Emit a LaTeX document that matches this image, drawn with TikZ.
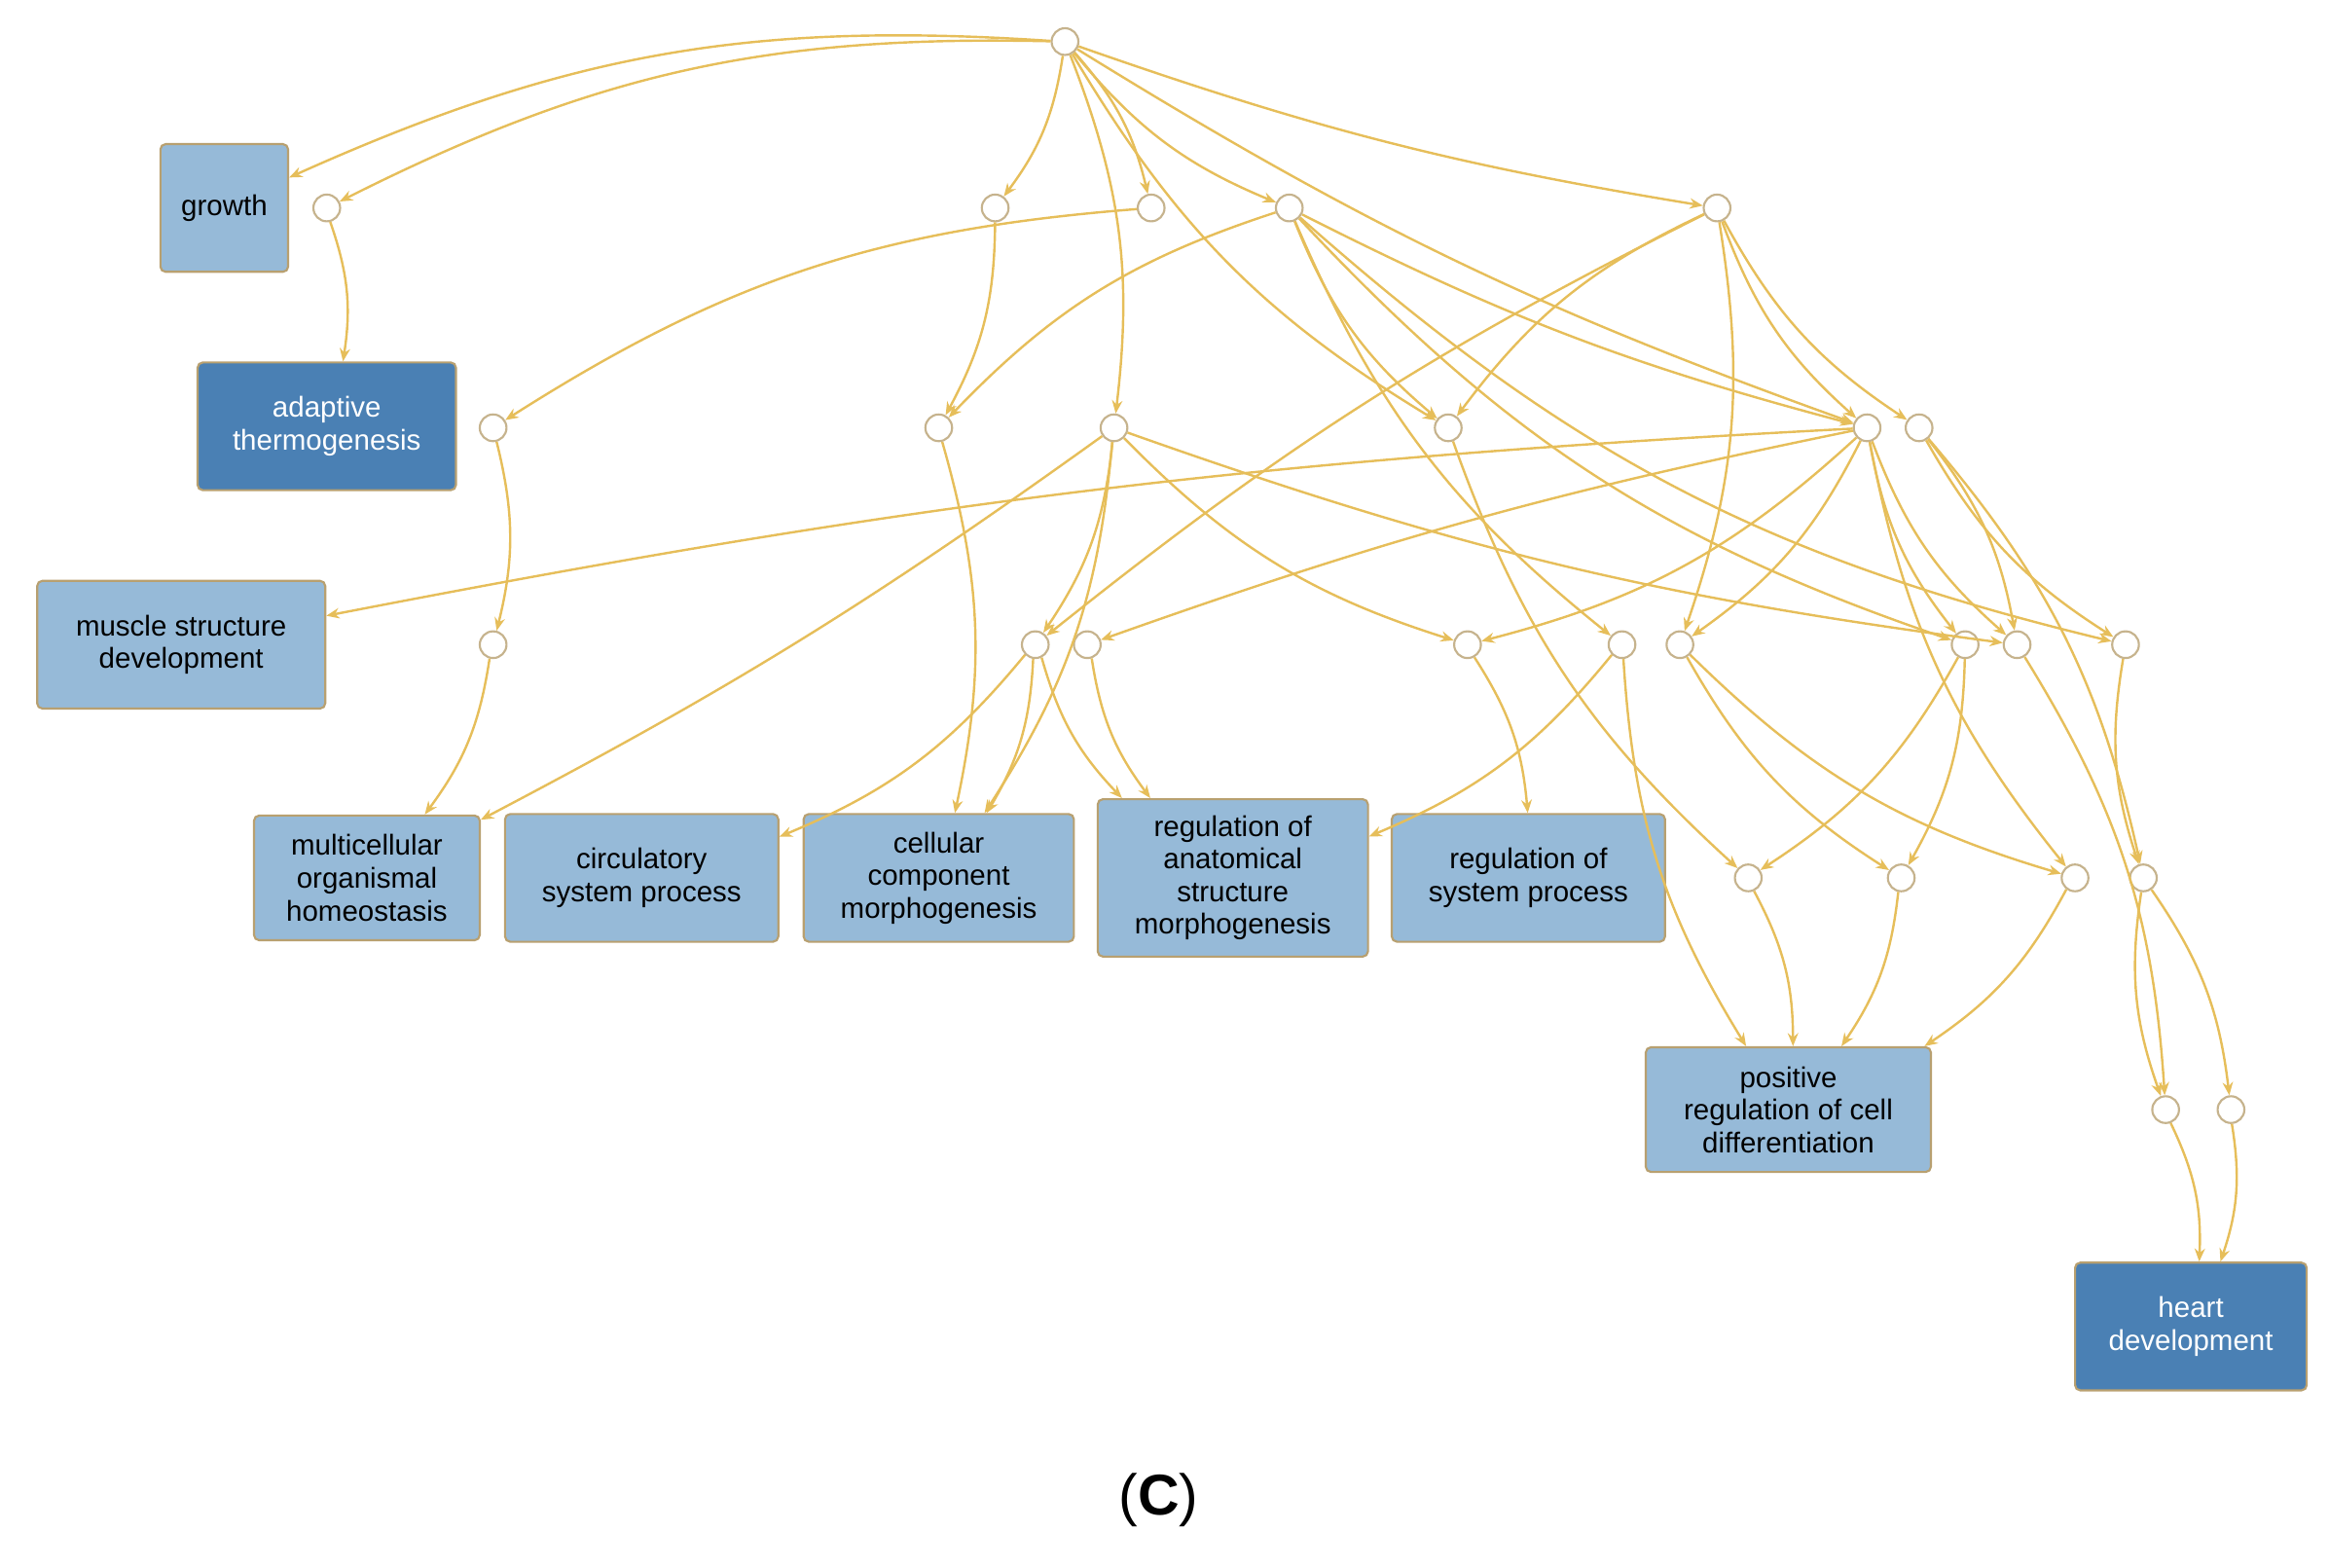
\documentclass[tikz,border=0pt]{standalone}
\usepackage{fontspec}
\setmainfont{Liberation Sans}
\usetikzlibrary{arrows.meta}
\definecolor{edgegold}{RGB}{230,190,90}
\definecolor{boxlight}{RGB}{150,186,216}
\definecolor{boxdark}{RGB}{74,128,180}
\definecolor{boxedge}{RGB}{184,160,112}
\begin{document}
\begin{tikzpicture}[x=0.02cm,y=-0.02cm,
  dot/.style={circle,draw=boxedge!80,fill=white,line width=0.8pt,minimum size=0.36cm,inner sep=0pt},
  term/.style={draw=boxedge,line width=0.8pt,fill=boxlight,rounded corners=2pt,align=center,
    font=\fontsize{11}{12.5}\selectfont,inner sep=2pt},
  dterm/.style={term,fill=boxdark,text=white},
  e/.style={draw=edgegold,line width=0.9pt,-{Stealth[length=5pt,width=4pt]}},
  el/.style={e,bend left=14},
  er/.style={e,bend right=14}]
\useasboundingbox (0,0) rectangle (1568,1055);
% terms
\node[term,minimum width=1.72cm,minimum height=1.72cm] (growth) at (151,140) {growth};
\node[dterm,minimum width=3.48cm,minimum height=1.72cm] (adapt) at (220,287) {adaptive\\thermogenesis};
\node[term,minimum width=3.88cm,minimum height=1.72cm] (muscle) at (122,434) {muscle structure\\development};
\node[term,minimum width=3.04cm,minimum height=1.68cm] (multi) at (247,591) {multicellular\\organismal\\homeostasis};
\node[term,minimum width=3.68cm,minimum height=1.72cm] (circ) at (432,591) {circulatory\\system process};
\node[term,minimum width=3.64cm,minimum height=1.72cm] (cell) at (632,591) {cellular\\component\\morphogenesis};
\node[term,minimum width=3.64cm,minimum height=2.12cm] (anat) at (830,591) {regulation of\\anatomical\\structure\\morphogenesis};
\node[term,minimum width=3.68cm,minimum height=1.72cm] (sys) at (1029,591) {regulation of\\system process};
\node[term,minimum width=3.84cm,minimum height=1.68cm] (pos) at (1204,747) {positive\\regulation of cell\\differentiation};
\node[dterm,minimum width=3.12cm,minimum height=1.72cm] (heart) at (1475,893) {heart\\development};
\node[font=\fontsize{22}{24}\selectfont\rmfamily] (lab) at (780,1010) {(\textbf{C})};
% intermediate nodes
\node[dot] (t) at (717,28) {};
\node[dot] (a1) at (220,140) {}; \node[dot] (a2) at (670,140) {}; \node[dot] (a3) at (775,140) {};
\node[dot] (a4) at (868,140) {}; \node[dot] (a5) at (1156,140) {};
\node[dot] (b1) at (332,288) {}; \node[dot] (b2) at (632,288) {}; \node[dot] (b3) at (750,288) {};
\node[dot] (b4) at (975,288) {}; \node[dot] (b5) at (1257,288) {}; \node[dot] (b6) at (1292,288) {};
\node[dot] (c1) at (332,434) {}; \node[dot] (c2) at (697,434) {}; \node[dot] (c3) at (732,434) {};
\node[dot] (c4) at (988,434) {}; \node[dot] (c5) at (1092,434) {}; \node[dot] (c6) at (1131,434) {};
\node[dot] (c7) at (1323,434) {}; \node[dot] (c8) at (1358,434) {}; \node[dot] (c9) at (1431,434) {};
\node[dot] (d1) at (1177,591) {}; \node[dot] (d2) at (1280,591) {}; \node[dot] (d3) at (1397,591) {};
\node[dot] (d4) at (1443,591) {};
\node[dot] (e1) at (1458,747) {}; \node[dot] (e2) at (1502,747) {};
% connectors
\begin{scope}[on background layer/.style={}]
\draw[er] (t) to (growth);
\draw[er] (t) to (a1);
\draw[el] (t) to (a2);
\draw[el] (t) to (a3);
\draw[er] (t) to (a4);
\draw[er,bend right=5] (t) to (a5);
\draw[el] (t) to (b3);
\draw[er] (t) to (b4);
\draw[er,bend right=6] (t) to (b5);
\draw[el] (a1) to (adapt);
\draw[er] (a3) to (b1);
\draw[el] (b1) to (c1);
\draw[el] (c1) to (multi);
\draw[el] (a2) to (b2);
\draw[el] (b2) to (cell);
\draw[er] (a4) to (b2);
\draw[el] (b3) to (c2);
\draw[el] (b3) to (cell);
\draw[e,bend left=4] (b3) to (multi);
\draw[er] (b3) to (c4);
\draw[er,bend right=6] (b3) to (c8);
\draw[er] (a4) to (b4);
\draw[er,bend right=6] (a4) to (b5);
\draw[er] (a4) to (c7);
\draw[er] (a4) to (c5);
\draw[er] (a4) to (c9);
\draw[er] (a5) to (b5);
\draw[er] (a5) to (b6);
\draw[el] (a5) to (c6);
\draw[e,bend right=6] (a5) to (c2);
\draw[er] (a5) to (b4);
\draw[e,bend right=4] (b5) to (muscle);
\draw[e,bend right=4] (b5) to (c3);
\draw[el] (b5) to (c4);
\draw[el] (b5) to (c6);
\draw[er] (b5) to (c7);
\draw[er] (b5) to (c8);
\draw[er] (b5) to (d3);
\draw[er] (b6) to (c9);
\draw[el] (b6) to (c8);
\draw[el] (b6) to (d4);
\draw[er] (b4) to (d1);
\draw[el] (c2) to (circ);
\draw[el] (c2) to (cell);
\draw[er] (c2) to (anat);
\draw[er] (c3) to (anat);
\draw[el] (c4) to (sys);
\draw[el] (c5) to (anat);
\draw[er] (c5) to (pos);
\draw[er] (c6) to (d2);
\draw[er] (c6) to (d3);
\draw[el] (c7) to (d1);
\draw[el] (c7) to (d2);
\draw[el] (c8) to (e1);
\draw[er] (c9) to (d4);
\draw[el] (d1) to (pos);
\draw[el] (d2) to (pos);
\draw[el] (d3) to (pos);
\draw[er] (d4) to (e1);
\draw[el] (d4) to (e2);
\draw[el] (e1) to (heart);
\draw[el] (e2) to (heart);
\end{scope}
\end{tikzpicture}
\end{document}
